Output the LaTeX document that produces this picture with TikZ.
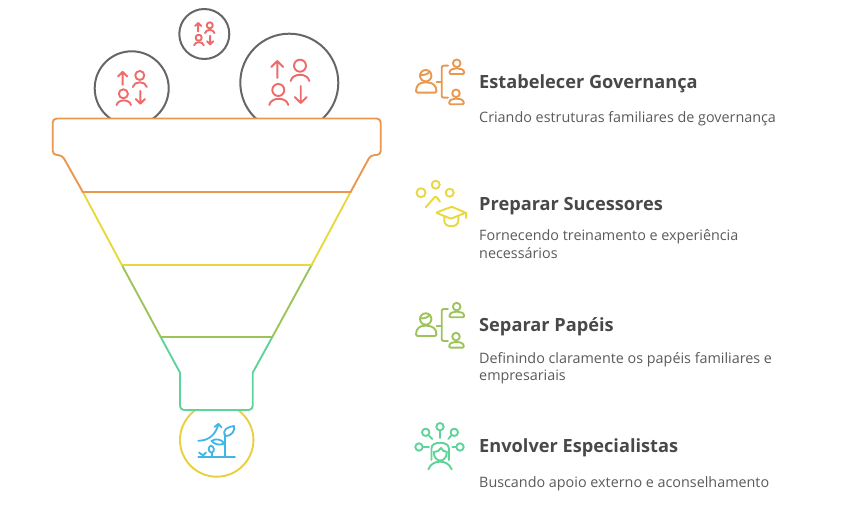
\documentclass[tikz,border=0pt]{standalone}
\usepackage{fontspec}
\setmainfont{Open Sans}
\definecolor{cOrange}{HTML}{E8984F}
\definecolor{cYellow}{HTML}{E8D83E}
\definecolor{cOlive}{HTML}{9CC45A}
\definecolor{cGreen}{HTML}{5FD49A}
\definecolor{cBall}{HTML}{E8CF3E}
\definecolor{cBlue}{HTML}{3FB5E8}
\definecolor{cRed}{HTML}{EE6B6B}
\definecolor{cGray}{HTML}{666666}
\definecolor{cTitle}{HTML}{484848}
\definecolor{cBody}{HTML}{5A5A5A}
\tikzset{
  funnel/.style={line width=1.9pt,line join=round,line cap=round},
  ball/.style={line width=2pt,draw=cGray},
  glyph/.style={line width=1.9pt,line cap=round,line join=round},
  title/.style={anchor=base west,inner sep=0pt,text=cTitle,font=\fontsize{18.2}{22}\selectfont\bfseries},
  body/.style={anchor=base west,inner sep=0pt,text=cBody,font=\fontsize{14.35}{17}\selectfont},
  pics/swap/.style={code={
    \draw[glyph,draw=cRed] (-12,-4.7) -- (-12,-21.7) (-18,-15.7) -- (-12,-21.7) -- (-6,-15.7);
    \draw[glyph,draw=cRed] (10.7,-17) circle (6);
    \draw[glyph,draw=cRed] (1.4,-1.7) .. controls (3,-10) and (18.4,-10) .. (20,-1.7);
    \draw[glyph,draw=cRed] (-11,7.3) circle (6);
    \draw[glyph,draw=cRed] (-20,22.3) .. controls (-18.4,14) and (-2.6,14) .. (-1,22.3);
    \draw[glyph,draw=cRed] (11.4,3.3) -- (11.4,20.3) (5.4,14.3) -- (11.4,20.3) -- (17.4,14.3);
  }},
  pics/tree/.style={code={
    \draw[glyph,draw=#1] (425.7,75.7) circle (5.7);
    \draw[glyph,draw=#1] (420.3,75) .. controls (424,75.5) and (428,74) .. (430,71.5);
    \draw[glyph,draw=#1,rounded corners=1.5pt] (416,92.7) .. controls (416,85) and (420,82.5) .. (425.7,82.5) .. controls (432,82.5) and (436.5,85) .. (436.5,92.7) -- cycle;
    \draw[glyph,draw=#1] (436.5,82.3) -- (441.7,82.3);
    \draw[glyph,draw=#1,rounded corners=2pt] (448,65.7) -- (441.7,65.7) -- (441.7,97.7) -- (448,97.7);
    \draw[glyph,draw=#1] (456.7,63.3) circle (3.8);
    \draw[glyph,draw=#1,rounded corners=1.2pt] (449.3,74) .. controls (449.8,69.5) and (452.5,68.5) .. (456.7,68.5) .. controls (461,68.5) and (464,69.5) .. (464.3,74) -- cycle;
    \draw[glyph,draw=#1] (456,93.3) circle (3.8);
    \draw[glyph,draw=#1,rounded corners=1.2pt] (449,104.3) .. controls (449.5,99.8) and (452,98.8) .. (456,98.8) .. controls (460.5,98.8) and (463.5,99.8) .. (464,104.3) -- cycle;
  }}
}
\begin{document}
\begin{tikzpicture}[x=1pt,y=-1pt]
\useasboundingbox (0,0) rectangle (843,526);
% balls resting on the rim
\begin{scope}
  \clip (0,0) rectangle (843,118.5);
  \draw[ball] (131.7,88.3) circle (37);
  \draw[ball] (289.3,82.7) circle (49);
\end{scope}
\draw[ball] (204.3,34) circle (25);
\pic[scale=0.755] at (131.7,88.3) {swap};
\pic at (289.3,82.7) {swap};
\pic[scale=0.51] at (204.3,34) {swap};
% ball below the funnel
\begin{scope}
  \clip (0,410) rectangle (843,526);
  \draw[line width=1.9pt,draw=cBall] (216.7,440) circle (36.7);
\end{scope}
% funnel
\draw[funnel,draw=cYellow] (82.7,191.8) -- (121.7,264.7) (350.7,191.8) -- (311.7,264.7);
\draw[funnel,draw=cOlive] (121.7,264.7) -- (160.7,337) (311.7,264.7) -- (272.3,337);
\draw[funnel,draw=cGreen] (160.7,337) -- (180,372.7) (272.3,337) -- (252.7,372.7);
\draw[funnel,draw=cGreen,rounded corners=4pt] (180,372.7) -- (180,410) -- (252.7,410) -- (252.7,372.7);
\draw[funnel,draw=cOlive] (160.7,337) -- (272.3,337);
\draw[funnel,draw=cYellow] (121.7,264.7) -- (311.7,264.7);
\draw[funnel,draw=cOrange,rounded corners=4pt] (82.7,191.8) -- (62,155) -- (52.7,155) -- (52.7,118.5) -- (380.7,118.5) -- (380.7,155) -- (370.7,155) -- (350.7,191.8);
\draw[line width=2.2pt,line cap=round,draw=cOrange] (82.7,191.8) -- (350.7,191.8);
% plant
\begin{scope}[line width=1.8pt,line cap=round,line join=round,draw=cBlue]
  \draw (198.3,457.3) -- (235,457.3);
  \draw (225,457.3) -- (225,434);
  \draw (225,436) .. controls (222,429) and (228,427) .. (234,426) .. controls (235,431) and (232,436) .. (225,436);
  \draw (224.5,443.5) .. controls (219,446) and (214,444) .. (211.5,441) .. controls (215,438.5) and (221,438.5) .. (224.5,443.5);
  \draw (211.7,457.3) -- (211.7,453);
  \draw (211.7,453) .. controls (207.5,451) and (208,447) .. (211,445.5) .. controls (214.5,447) and (215,451) .. (211.7,453);
  \draw (199,452.5) -- (203,455.5) -- (206,452.5) (203,455.5) -- (203,457);
  \draw (198.3,440.8) .. controls (209,440.5) and (215,435) .. (218.3,425);
  \draw (214.5,427) -- (218.5,423.8) -- (221.5,427.5);
\end{scope}
% icons
\pic {tree=cOrange};
\pic[yshift=-243.3pt] {tree=cOlive};
% graduate icon
\begin{scope}[glyph,draw=cYellow]
  \draw (421,192.7) circle (4.5);
  \draw (435.7,184.7) circle (4);
  \draw (449.7,192.7) circle (4);
  \draw[rounded corners=1.5pt] (425.7,207.3) -- (435.7,196) -- (440,201.7);
  \draw[rounded corners=1pt] (436,212.7) -- (451.7,206.7) -- (465.7,212.7) -- (451,218.7) -- cycle;
  \draw (444.3,216.5) -- (444.3,221) .. controls (444.3,228) and (458.3,228) .. (458.3,221) -- (458.3,216.5);
  \draw (465.7,212.7) -- (465.7,218);
\end{scope}
% expert icon
\begin{scope}[glyph,draw=cGreen]
  \draw (440,426.7) circle (3.7);
  \draw (440,430.4) -- (440,438);
  \draw (425.7,432.3) circle (3.7);
  \draw (428.3,434.9) -- (432.3,439);
  \draw (454.3,432.3) circle (3.7);
  \draw (451.7,434.9) -- (448.3,439);
  \draw (419,447) circle (3.7);
  \draw (422.7,447) -- (429,447);
  \draw (460,447) circle (3.7);
  \draw (456.3,447) -- (452.3,447);
  \draw[rounded corners=3pt] (431.5,460) -- (431.5,451) .. controls (431.5,441) and (448.8,441) .. (448.8,451) -- (448.8,460);
  \draw (433.5,452) .. controls (437,452) and (440,450) .. (441,448) .. controls (442,450) and (444,452) .. (447,452);
  \draw (433.8,453) .. controls (434.5,463) and (446,463) .. (446.8,453);
  \draw (428.3,469.3) .. controls (431,463) and (436,461.7) .. (440,461.7) .. controls (444,461.7) and (449,463) .. (451.7,469.3);
\end{scope}
% texts
\node[title] (t1) at (479,88.5) {Estabelecer Governança};
\node[body] (d1) at (479,123) {Criando estruturas familiares de governança};
\node[title] (t2) at (479,210.5) {Preparar Sucessores};
\node[body] (d2a) at (479,241) {Fornecendo treinamento e experiência};
\node[body] (d2b) at (479,259) {necessários};
\node[title] (t3) at (479,331.5) {Separar Papéis};
\node[body] (d3a) at (479,363) {Definindo claramente os papéis familiares e};
\node[body] (d3b) at (479,381) {empresariais};
\node[title] (t4) at (479,452.5) {Envolver Especialistas};
\node[body] (d4) at (479,487) {Buscando apoio externo e aconselhamento};
\end{tikzpicture}
\end{document}
